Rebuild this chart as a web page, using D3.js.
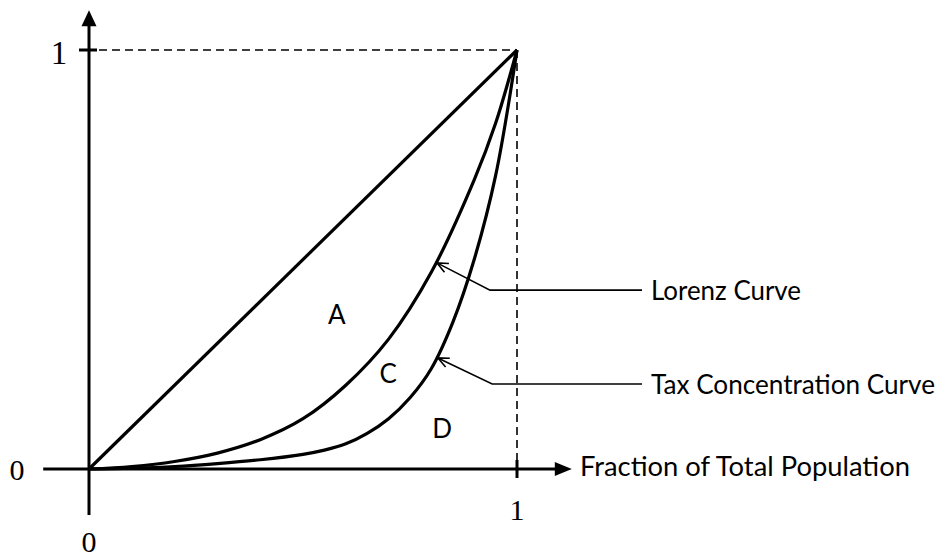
<!DOCTYPE html>
<html>
<head>
<meta charset="utf-8">
<script src="https://cdn.jsdelivr.net/npm/d3@7"></script>
<style>
  body { margin: 0; background: #fff; }
  .lbl { font-family: Lato, "Open Sans", sans-serif; font-size: 26px; fill: #000; }
  .num { font-family: "Liberation Serif", "DejaVu Serif", serif; font-size: 30px; fill: #000; }
</style>
</head>
<body>
<div id="chart"></div>
<script>
// fraction of population (x) vs cumulative share (y)
let lorenzX = [0, 0.1, 0.2, 0.3, 0.4, 0.5, 0.6, 0.7, 0.8, 0.9, 0.95, 1];
let lorenzY = [0, 0.006, 0.018, 0.038, 0.07, 0.12, 0.2, 0.31, 0.47, 0.69, 0.825, 1];

let taxX = [0, 0.1, 0.2, 0.3, 0.4, 0.5, 0.55, 0.6, 0.65, 0.7, 0.75, 0.8, 0.85, 0.9, 0.95, 1];
let taxY = [0, 0.002, 0.006, 0.013, 0.022, 0.035, 0.045, 0.06, 0.085, 0.12, 0.17, 0.24, 0.35, 0.5, 0.7, 1];

let equalityX = [0, 1];
let equalityY = [0, 1];

let xTickLabels = ["0", "1"];
let yTickLabels = ["0", "1"];

let regionNames = ["A", "C", "D"];
let regionX = [0.579, 0.699, 0.825];
let regionY = [0.37, 0.229, 0.098];

let calloutNames = ["Lorenz Curve", "Tax Concentration Curve"];
let calloutTipX = [0.813, 0.815];
let calloutTipY = [0.492, 0.265];
let calloutBendX = [0.937, 0.942];
let calloutBendY = [0.427, 0.203];

let xAxisTitle = "Fraction of Total Population";

window.onload = function() {
    let width = 945, height = 557;

    let x = d3.scaleLinear().domain([0, 1]).range([89, 517]);
    let y = d3.scaleLinear().domain([0, 1]).range([469, 50]);

    let svg = d3.select("#chart").append("svg")
        .attr("width", width)
        .attr("height", height);

    let line = d3.line()
        .x(function(d) { return x(d[0]); })
        .y(function(d) { return y(d[1]); })
        .curve(d3.curveCatmullRom.alpha(0.5));

    //dashed guides to the (1,1) corner
    svg.append("line")
        .attr("x1", x(0) + 10).attr("y1", y(1))
        .attr("x2", x(1)).attr("y2", y(1))
        .attr("stroke", "#000").attr("stroke-width", 1.6)
        .attr("stroke-dasharray", "8,5");
    svg.append("line")
        .attr("x1", x(1)).attr("y1", y(1))
        .attr("x2", x(1)).attr("y2", y(0))
        .attr("stroke", "#000").attr("stroke-width", 1.6)
        .attr("stroke-dasharray", "8,5");

    //axes
    svg.append("line")
        .attr("x1", x(-0.107)).attr("y1", y(0))
        .attr("x2", x(1.09)).attr("y2", y(0))
        .attr("stroke", "#000").attr("stroke-width", 3);
    svg.append("line")
        .attr("x1", x(0)).attr("y1", y(-0.11))
        .attr("x2", x(0)).attr("y2", y(1.06))
        .attr("stroke", "#000").attr("stroke-width", 3);

    //arrow heads of the axes
    let xt = x(1.128), yt = y(1.095);
    svg.append("path")
        .attr("d", "M" + xt + "," + y(0) + "L" + (xt - 17) + "," + (y(0) - 7) + "L" + (xt - 17) + "," + (y(0) + 7) + "Z")
        .attr("fill", "#000");
    svg.append("path")
        .attr("d", "M" + x(0) + "," + yt + "L" + (x(0) - 7.5) + "," + (yt + 16) + "L" + (x(0) + 7.5) + "," + (yt + 16) + "Z")
        .attr("fill", "#000");

    //ticks at 1
    svg.append("line")
        .attr("x1", x(0) - 10).attr("y1", y(1))
        .attr("x2", x(0) + 8).attr("y2", y(1))
        .attr("stroke", "#000").attr("stroke-width", 3);
    svg.append("line")
        .attr("x1", x(1)).attr("y1", y(0) - 9)
        .attr("x2", x(1)).attr("y2", y(0) + 9)
        .attr("stroke", "#000").attr("stroke-width", 3);

    //tick labels
    svg.append("text").attr("class", "num")
        .attr("x", x(0)).attr("y", 552).attr("text-anchor", "middle")
        .text(xTickLabels[0]);
    svg.append("text").attr("class", "num")
        .attr("x", x(1)).attr("y", 520).attr("text-anchor", "middle")
        .text(xTickLabels[1]);
    svg.append("text").attr("class", "num")
        .attr("x", 17).attr("y", y(0) + 11).attr("text-anchor", "middle")
        .text(yTickLabels[0]);
    svg.append("text").attr("class", "num")
        .attr("x", 59).attr("y", y(1) + 14).attr("text-anchor", "middle")
        .style("font-size", "33px")
        .text(yTickLabels[1]);

    svg.append("text").attr("class", "lbl")
        .attr("x", 580).attr("y", y(0) + 7)
        .attr("textLength", 330).attr("lengthAdjust", "spacingAndGlyphs")
        .text(xAxisTitle);

    //curves
    let curves = [
        d3.zip(equalityX, equalityY),
        d3.zip(lorenzX, lorenzY),
        d3.zip(taxX, taxY)
    ];
    svg.selectAll("path.curve")
        .data(curves)
        .enter().append("path")
        .attr("class", "curve")
        .attr("d", line)
        .attr("fill", "none")
        .attr("stroke", "#000")
        .attr("stroke-width", 3.2)
        .attr("stroke-linejoin", "round");

    //region letters
    svg.selectAll("text.region")
        .data(regionNames)
        .enter().append("text")
        .attr("class", "lbl region")
        .attr("x", function(d, i) { return x(regionX[i]); })
        .attr("y", function(d, i) { return y(regionY[i]) + 10; })
        .attr("text-anchor", "middle")
        .text(function(d) { return d; });

    //callouts
    let callWidths = [150, 284];
    calloutNames.forEach(function(name, i) {
        let tx = x(calloutTipX[i]), ty = y(calloutTipY[i]);
        let bx = x(calloutBendX[i]), by = y(calloutBendY[i]);
        svg.append("path")
            .attr("d", "M" + tx + "," + ty + "L" + bx + "," + by + "L" + 642 + "," + by)
            .attr("fill", "none").attr("stroke", "#000").attr("stroke-width", 1.6);
        //open arrow head
        let ang = Math.atan2(by - ty, bx - tx);
        let len = 12, spread = 0.42;
        let p1 = [tx + len * Math.cos(ang - spread), ty + len * Math.sin(ang - spread)];
        let p2 = [tx + len * Math.cos(ang + spread), ty + len * Math.sin(ang + spread)];
        svg.append("path")
            .attr("d", "M" + p1 + "L" + tx + "," + ty + "L" + p2)
            .attr("fill", "none").attr("stroke", "#000").attr("stroke-width", 1.6);
        svg.append("text").attr("class", "lbl")
            .attr("x", 651).attr("y", by + 10)
            .attr("textLength", callWidths[i]).attr("lengthAdjust", "spacingAndGlyphs")
            .text(name);
    });
}
</script>
</body>
</html>
